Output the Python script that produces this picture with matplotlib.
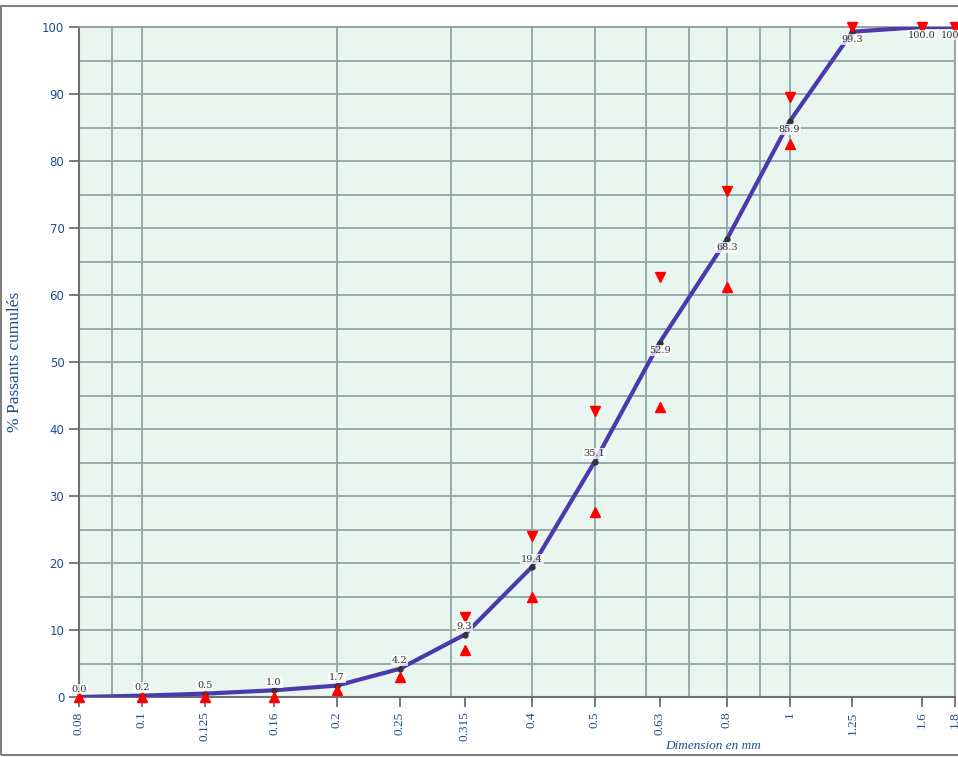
import numpy as np
import matplotlib
matplotlib.use("Agg")
import matplotlib.pyplot as plt
from matplotlib.patches import Rectangle
from matplotlib.ticker import FixedLocator, NullLocator, NullFormatter

# ---- data ----
sizes = [0.08, 0.1, 0.125, 0.16, 0.2, 0.25, 0.315, 0.4, 0.5, 0.63, 0.8, 1.0, 1.25, 1.6, 1.8]
size_labels = ["0.08", "0.1", "0.125", "0.16", "0.2", "0.25", "0.315", "0.4", "0.5",
               "0.63", "0.8", "1", "1.25", "1.6", "1.8"]
passing = [0.0, 0.2, 0.5, 1.0, 1.7, 4.2, 9.3, 19.4, 35.1, 52.9, 68.3, 85.9, 99.3, 100.0, 100.0]
upper_limit = [np.nan, np.nan, np.nan, np.nan, np.nan, np.nan, 12.0, 24.0, 42.7, 62.7, 75.5, 89.5, 100.0, 100.0, 100.0]
lower_limit = [0.0, 0.0, 0.0, 0.0, 1.0, 3.0, 7.0, 15.0, 27.6, 43.3, 61.2, 82.5, np.nan, np.nan, np.nan]
grid_x = [0.09, 0.1, 0.2, 0.3, 0.4, 0.5, 0.6, 0.7, 0.8, 0.9, 1.0]

blue_txt = "#1F4E8C"
grid_c = "#8FA5A8"

fig = plt.figure(figsize=(9.58, 7.57), dpi=100)
fig.patch.set_facecolor("white")
# outer frame
fig.patches.append(Rectangle((1/958, 2/757), 1.2, 749/757, transform=fig.transFigure,
                             fill=False, edgecolor="#808080", linewidth=1.5))

ax = fig.add_axes([79/958, 60/757, 876/958, 670/757])
ax.set_facecolor("#E8F6EF")
ax.set_xscale("log")
ax.set_xlim(0.08, 1.8)
ax.set_ylim(0, 100)

# grid
for gx in grid_x:
    ax.axvline(gx, color=grid_c, lw=1.3, zorder=1)
for gy in range(5, 100, 5):
    ax.axhline(gy, color=grid_c, lw=1.3, zorder=1)

ax.xaxis.set_major_locator(FixedLocator(sizes))
ax.set_xticklabels(size_labels, rotation=90, family="Liberation Serif", fontsize=9.5, color=blue_txt)
ax.xaxis.set_minor_locator(NullLocator())
ax.xaxis.set_minor_formatter(NullFormatter())
ax.set_yticks(range(0, 101, 10))
ax.set_yticklabels([str(v) for v in range(0, 101, 10)], family="DejaVu Sans", fontsize=8.5, color=blue_txt)
ax.tick_params(axis="both", direction="out", length=7, width=1.3, color="#707070")

for s in ["top", "right"]:
    ax.spines[s].set_color("#909090")
    ax.spines[s].set_linewidth(1.2)
for s in ["left", "bottom"]:
    ax.spines[s].set_color("#707070")
    ax.spines[s].set_linewidth(1.5)

# curve
ax.plot(sizes, passing, color="#4B3AAE", lw=3, zorder=3, solid_capstyle="butt")
ax.plot(sizes, passing, "o", color="#333333", ms=3.5, zorder=4)
ax.plot(sizes, upper_limit, "v", color="#FF0000", ms=7, zorder=5, clip_on=False)
ax.plot(sizes, lower_limit, "^", color="#FF0000", ms=7, zorder=5, clip_on=False)

for xv, yv in zip(sizes, passing):
    off = 8 if yv < 50 else -8
    ax.annotate(f"{yv:.1f}", (xv, yv), xytext=(0, off), textcoords="offset pixels",
                ha="center", va="center", fontsize=7, family="DejaVu Serif", color="#333333",
                bbox=dict(boxstyle="square,pad=0.1", fc="white", ec="none", alpha=0.75),
                zorder=6, annotation_clip=False)

ax.set_ylabel("% Passants cumulés", family="Liberation Serif", fontsize=12.5, color=blue_txt, labelpad=14)
fig.text(713/958, 1 - 746/757, "Dimension en mm", family="Liberation Serif", style="italic",
         fontsize=9.5, color=blue_txt, ha="center", va="center")

fig.savefig("out.png", dpi=100)
